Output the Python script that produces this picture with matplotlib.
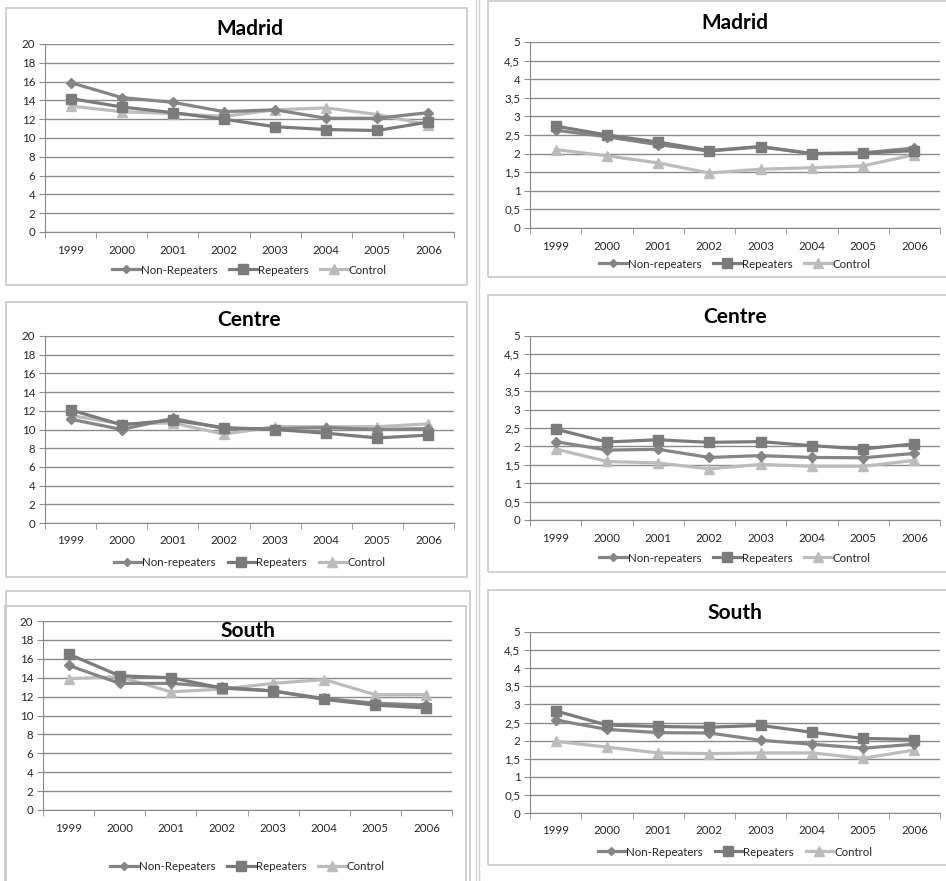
import numpy as np
import matplotlib
matplotlib.use("Agg")
import matplotlib.pyplot as plt
from matplotlib.patches import Rectangle
from matplotlib.lines import Line2D

plt.rcParams['font.family'] = ['Lato', 'DejaVu Sans']

years = ['1999', '2000', '2001', '2002', '2003', '2004', '2005', '2006']

# left column (0-20 scale)
madrid_non = [15.9, 14.3, 13.8, 12.8, 13.0, 12.1, 12.1, 12.7]
madrid_rep = [14.2, 13.3, 12.7, 12.0, 11.2, 10.9, 10.8, 11.7]
madrid_ctl = [13.4, 12.8, 12.6, 12.3, 13.0, 13.2, 12.5, 11.4]

centre_non = [11.1, 10.0, 11.2, 10.1, 10.1, 10.2, 10.0, 10.1]
centre_rep = [12.1, 10.5, 11.0, 10.2, 10.0, 9.6, 9.1, 9.4]
centre_ctl = [11.5, 10.6, 10.7, 9.5, 10.3, 10.3, 10.3, 10.6]

south_non = [15.3, 13.4, 13.4, 13.0, 12.6, 11.8, 11.3, 11.1]
south_rep = [16.5, 14.2, 14.0, 12.9, 12.6, 11.7, 11.1, 10.8]
south_ctl = [13.9, 14.1, 12.5, 12.8, 13.4, 13.8, 12.2, 12.2]

# right column (0-5 scale)
madrid_non_r = [2.63, 2.45, 2.24, 2.07, 2.18, 2.0, 2.02, 2.15]
madrid_rep_r = [2.74, 2.50, 2.31, 2.08, 2.19, 2.0, 2.01, 2.08]
madrid_ctl_r = [2.11, 1.94, 1.75, 1.48, 1.58, 1.62, 1.67, 1.97]

centre_non_r = [2.13, 1.90, 1.92, 1.70, 1.75, 1.70, 1.69, 1.81]
centre_rep_r = [2.47, 2.12, 2.18, 2.11, 2.13, 2.02, 1.93, 2.07]
centre_ctl_r = [1.93, 1.59, 1.55, 1.39, 1.51, 1.46, 1.46, 1.62]

south_non_r = [2.57, 2.31, 2.22, 2.21, 2.01, 1.90, 1.79, 1.90]
south_rep_r = [2.82, 2.43, 2.39, 2.37, 2.42, 2.23, 2.06, 2.03]
south_ctl_r = [1.98, 1.82, 1.66, 1.64, 1.66, 1.66, 1.51, 1.74]

W, H = 946, 881
fig = plt.figure(figsize=(W / 100, H / 100), dpi=100)


def box(x0, y0, x1, y1, lw=1.2, col='#c8c8c8'):
    fig.patches.append(Rectangle((x0 / W, 1 - y1 / H), (x1 - x0) / W, (y1 - y0) / H,
                                 transform=fig.transFigure, fill=False,
                                 edgecolor=col, linewidth=lw))


def panel(rect, title, non, rep, ctl, labels, ymax, step, title_y, leg_y, comma=False):
    # rect in pixels: left, top, right, bottom of the plot area
    l, t, r, b = rect
    ax = fig.add_axes([l / W, 1 - b / H, (r - l) / W, (b - t) / H])
    x = np.arange(len(years))
    ax.plot(x, ctl, color='#bcbcbc', lw=2.3, marker='^', ms=7, label=labels[2], zorder=3)
    ax.plot(x, non, color='#858585', lw=2.3, marker='D', ms=5, label=labels[0], zorder=4)
    ax.plot(x, rep, color='#7b7b7b', lw=2.3, marker='s', ms=7, label=labels[1], zorder=4)
    ax.set_xlim(-0.5, len(years) - 0.5)
    ax.set_ylim(0, ymax)
    ticks = np.arange(0, ymax + step / 2, step)
    ax.set_yticks(ticks)
    if comma:
        ax.set_yticklabels([('%g' % v).replace('.', ',') for v in ticks])
    ax.yaxis.grid(True, color='#8a8a8a', lw=1.0)
    ax.set_axisbelow(True)
    ax.set_xticks(x)
    ax.set_xticklabels(years)
    ax.set_xticks(np.arange(-0.5, len(years)), minor=True)
    ax.tick_params(axis='x', which='major', length=0, pad=9, labelsize=8.3, colors='#262626')
    ax.tick_params(axis='x', which='minor', length=4, color='#8a8a8a', direction='out')
    ax.tick_params(axis='y', length=4, color='#8a8a8a', labelsize=8.3, colors='#262626', pad=3)
    for s in ['top', 'right']:
        ax.spines[s].set_visible(False)
    for s in ['left', 'bottom']:
        ax.spines[s].set_color('#8a8a8a')
    fig.text((l + r) / 2 / W, 1 - title_y / H, title, ha='center', va='center',
             fontsize=15, fontweight='bold', color='black')
    handles = [Line2D([], [], color='#858585', lw=2.3, marker='D', ms=4.5),
               Line2D([], [], color='#7b7b7b', lw=2.3, marker='s', ms=6.5),
               Line2D([], [], color='#bcbcbc', lw=2.3, marker='^', ms=6.5)]
    fig.legend(handles, labels, loc='center', ncol=3, frameon=False,
               bbox_to_anchor=((l + r) / 2 / W, 1 - leg_y / H), fontsize=8.3,
               handlelength=2.4, handletextpad=0.1, columnspacing=1.0,
               labelcolor='#262626')
    return ax


lab_upper = ['Non-Repeaters', 'Repeaters', 'Control']
lab_lower = ['Non-repeaters', 'Repeaters', 'Control']

# borders of the individual chart boxes
box(6, 8, 467, 285)
box(488, 1, 950, 277)
box(6, 302, 467, 577)
box(488, 295, 950, 572)
box(6, 591, 470, 900)
box(5, 606, 466, 900)
box(488, 590, 950, 865)
fig.add_artist(Line2D([476 / W, 476 / W], [0, 1], color='#d0d0d0', lw=1.0))
fig.add_artist(Line2D([479 / W, 479 / W], [0, 1], color='#d0d0d0', lw=1.0))

panel((45, 44, 454, 232), 'Madrid', madrid_non, madrid_rep, madrid_ctl, lab_upper,
      20, 2, 29, 270)
panel((530, 42, 940, 228), 'Madrid', madrid_non_r, madrid_rep_r, madrid_ctl_r, lab_lower,
      5, 0.5, 23, 264, comma=True)
panel((45, 336, 454, 523), 'Centre', centre_non, centre_rep, centre_ctl, lab_lower,
      20, 2, 320, 563)
panel((530, 336, 940, 520), 'Centre', centre_non_r, centre_rep_r, centre_ctl_r, lab_lower,
      5, 0.5, 317, 558, comma=True)
panel((43, 621, 452, 810), 'South', south_non, south_rep, south_ctl, lab_upper,
      20, 2, 631, 867)
panel((530, 632, 940, 813), 'South', south_non_r, south_rep_r, south_ctl_r, lab_upper,
      5, 0.5, 613, 852, comma=True)

fig.savefig('out.png', dpi=100)
